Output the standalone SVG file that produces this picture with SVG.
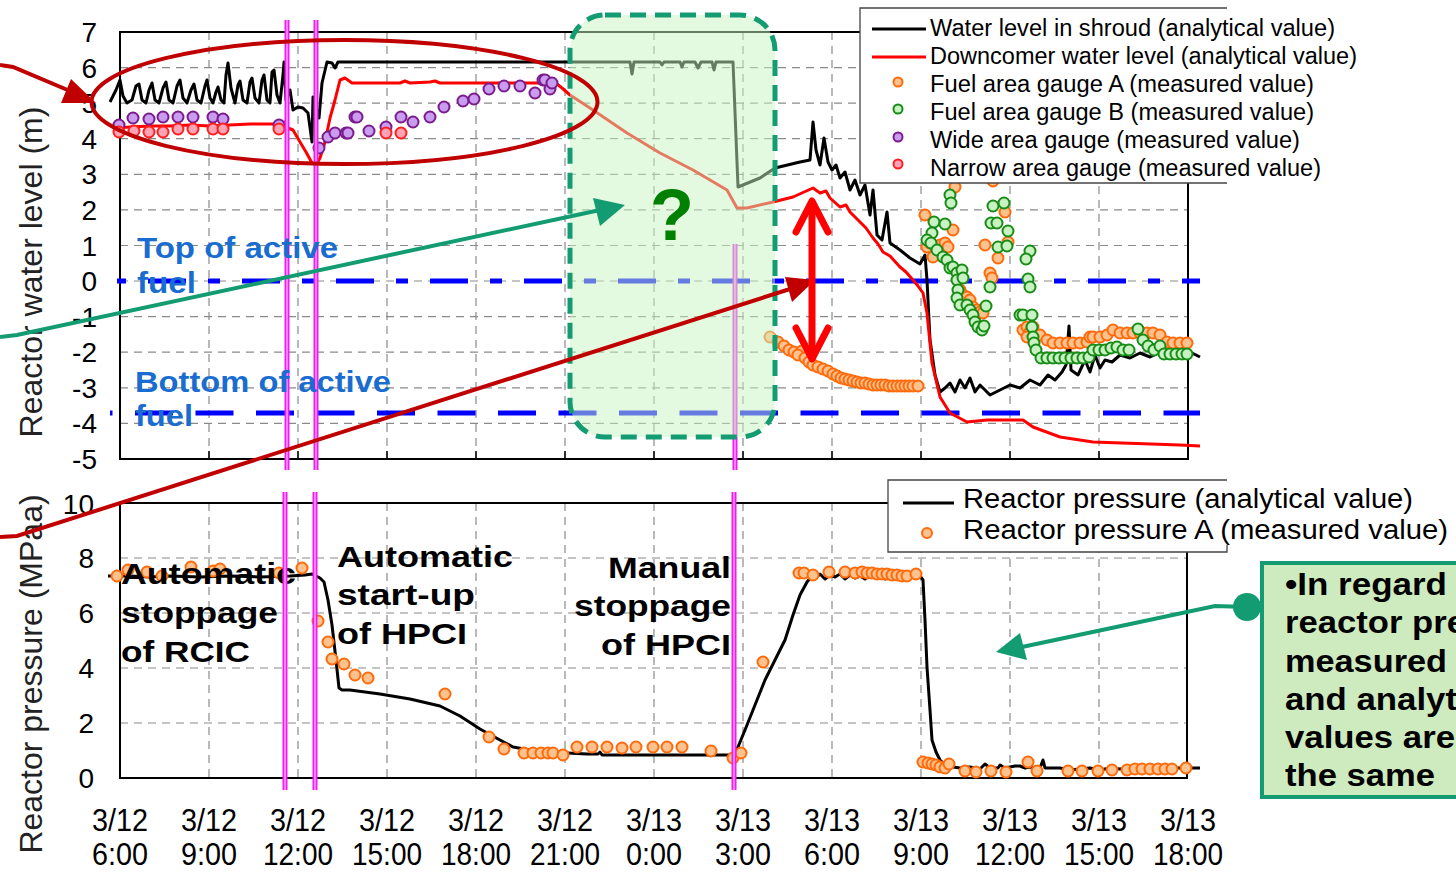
<svg xmlns="http://www.w3.org/2000/svg" width="1456" height="872" viewBox="0 0 1456 872">
<style>
text{font-family:"Liberation Sans",Arial,sans-serif}
.grid{stroke:#8a8a8a;stroke-width:1.2;stroke-dasharray:8 6;fill:none}
.frame{fill:none;stroke:#000;stroke-width:2}
.tick{font-size:28px;fill:#000;text-anchor:end}
.xl{font-size:32px;fill:#000;text-anchor:middle}
.ytitle{font-size:32px;fill:#222;text-anchor:middle}
.blk{fill:none;stroke:#000;stroke-width:3;stroke-linejoin:round}
.red{fill:none;stroke:#ff0000;stroke-width:3;stroke-linejoin:round}
.ga{fill:#fec28f;stroke:#ff6a0a;stroke-width:2}
.gb{fill:#c9f2c2;stroke:#178c17;stroke-width:2}
.wd{fill:#c99cf0;stroke:#7b1c8c;stroke-width:2}
.nr{fill:#ffa3b5;stroke:#ff1f1f;stroke-width:2}
.mg{stroke:#ee1eee;stroke-width:5}
.mg2{stroke:#ff9cff;stroke-width:1.5}
.fuel{font-size:29px;font-weight:bold;fill:#1a6dd0}
.note{font-size:30px;font-weight:bold;fill:#000}
.leg{font-size:23px;fill:#000}
.leg2{font-size:27px;fill:#000}
.call{font-size:31px;font-weight:bold;fill:#000}
.lbox{fill:#fff;stroke:none}
.lborder{fill:none;stroke:#444;stroke-width:1.3}
</style>

<!-- ===== Upper chart: reactor water level ===== -->
<g id="level-chart">
  <g id="level-grid">
    <path class="grid" d="M120,67.6H1188M120,103.2H1188M120,138.7H1188M120,174.3H1188M120,209.9H1188M120,245.5H1188M120,281H1188M120,316.6H1188M120,352.2H1188M120,387.8H1188M120,423.4H1188"/>
    <path class="grid" d="M209,32V459M298,32V459M387,32V459M476,32V459M565,32V459M654,32V459M743,32V459M832,32V459M921,32V459M1010,32V459M1099,32V459"/>
    <path stroke="#000" stroke-width="1.5" d="M209,451V459M298,451V459M387,451V459M476,451V459M565,451V459M654,451V459M743,451V459M832,451V459M921,451V459M1010,451V459M1099,451V459"/>
    <rect class="frame" x="120" y="32" width="1068" height="427"/>
  </g>
  <g id="level-ticks">
    <text class="tick" x="97" y="42">7</text>
    <text class="tick" x="97" y="77.6">6</text>
    <text class="tick" x="97" y="113.2">5</text>
    <text class="tick" x="97" y="148.7">4</text>
    <text class="tick" x="97" y="184.3">3</text>
    <text class="tick" x="97" y="219.9">2</text>
    <text class="tick" x="97" y="255.5">1</text>
    <text class="tick" x="97" y="291">0</text>
    <text class="tick" x="97" y="326.6">-1</text>
    <text class="tick" x="97" y="362.2">-2</text>
    <text class="tick" x="97" y="397.8">-3</text>
    <text class="tick" x="97" y="433.4">-4</text>
    <text class="tick" x="97" y="469">-5</text>
  </g>
  <text class="ytitle" transform="translate(42,272) rotate(-90)">Reactor water level (m)</text>

  <!-- fuel reference levels -->
  <g id="fuel-levels" fill="none" stroke="#0000ff" stroke-width="5">
    <line x1="117" y1="281" x2="1200" y2="281" stroke-dasharray="38 22 12 22" stroke-dashoffset="63"/>
    <line x1="110" y1="413" x2="1200" y2="413" stroke-dasharray="38 22.5" stroke-dashoffset="35.5"/>
  </g>

  <!-- analytical curves -->
  <path id="shroud-level" class="blk" d="M110,102 L116,90 L120,80 L123,96 L127,103 L132,100 L136,86 L139,84 L142,100 L146,103 L149,90 L152,83 L155,100 L159,103 L163,88 L166,82 L169,100 L173,103 L177,86 L180,80 L183,98 L187,103 L191,90 L194,84 L197,100 L201,103 L205,86 L207,80 L210,98 L213,103 L216,92 L218,87 L221,100 L224,103 L226,75 L228,63 L231,88 L235,103 L238,85 L240,81 L243,100 L247,103 L250,82 L252,78 L255,98 L259,103 L262,80 L264,75 L267,100 L270,103 L272,72 L274,70 L277,95 L280,103 L283,75 L284,62 L286,100 L290,90 L293,110 L298,107 L303,108 L308,113 L312,142 L313,97 L319,118 L322,83 L327,62 L332,63 L335,68 L338,62 L630,62 L632,74 L634,62 L660,62 L662,65 L664,62 L680,62 L682,67 L684,62 L695,62 L698,68 L701,62 L712,62 L714,70 L716,62 L733,62 L738,187 L760,178 L775,168 L800,162 L810,160 L813,122 L816,150 L820,165 L824,138 L828,162 L832,170 L836,165 L840,178 L845,172 L850,190 L855,180 L860,195 L865,185 L870,215 L873,190 L877,235 L882,240 L887,212 L890,243 L900,250 L910,258 L920,264 L925,255 L927,280 L930,340 L935,375 L940,392 L945,388 L950,383 L955,392 L960,380 L965,388 L970,378 L975,392 L980,385 L990,395 L1000,390 L1010,385 L1020,388 L1030,380 L1040,385 L1048,375 L1055,380 L1062,372 L1066,365 L1069,326 L1071,370 L1078,375 L1085,360 L1090,372 L1095,355 L1100,368 L1105,360 L1112,362 L1120,355 L1130,358 L1140,353 L1150,357 L1160,352 L1170,355 L1180,355 L1190,352 L1200,357"/>
  <path id="downcomer-level" class="red" d="M115,128 L130,127 L150,126 L170,126 L190,125 L210,126 L230,125 L250,124 L270,124 L280,124 L284,122 L288,128 L293,130 L300,142 L306,152 L312,163 L316,165 L320,158 L325,142 L330,118 L335,100 L340,80 L345,78 L352,83 L400,83 L405,81 L410,83 L430,82 L435,81 L440,83 L500,83 L550,83 L557,84 L562,88 L570,95 L593,110 L627,133 L660,153 L693,170 L727,190 L737,208 L747,208 L773,202 L793,197 L813,188 L820,193 L826,191 L830,198 L840,207 L846,205 L850,212 L860,222 L866,228 L873,238 L878,244 L883,252 L890,256 L900,267 L906,272 L913,280 L918,286 L923,293 L927,313 L932,363 L940,397 L950,413 L967,422 L987,420 L1023,420 L1033,427 L1060,437 L1093,442 L1180,445 L1200,446"/>

  <!-- wide area gauge -->
  <g id="wide-gauge">
    <circle class="wd" cx="119" cy="125" r="5.5"/><circle class="wd" cx="133" cy="118" r="5.5"/><circle class="wd" cx="149" cy="119" r="5.5"/><circle class="wd" cx="163" cy="117" r="5.5"/><circle class="wd" cx="178" cy="117" r="5.5"/><circle class="wd" cx="193" cy="117" r="5.5"/><circle class="wd" cx="213" cy="117" r="5.5"/><circle class="wd" cx="223" cy="119" r="5.5"/><circle class="wd" cx="279" cy="125" r="5.5"/>
    <circle class="wd" cx="319" cy="148" r="5.5"/><circle class="wd" cx="328" cy="137" r="5.5"/><circle class="wd" cx="335" cy="133" r="5.5"/><circle class="wd" cx="346" cy="133" r="5.5"/><circle class="wd" cx="348" cy="133" r="5.5"/><circle class="wd" cx="355" cy="117" r="5.5"/><circle class="wd" cx="357" cy="117" r="5.5"/><circle class="wd" cx="369" cy="131" r="5.5"/><circle class="wd" cx="386" cy="127" r="5.5"/><circle class="wd" cx="401" cy="117" r="5.5"/><circle class="wd" cx="413" cy="122" r="5.5"/><circle class="wd" cx="430" cy="117" r="5.5"/><circle class="wd" cx="444" cy="107" r="5.5"/><circle class="wd" cx="463" cy="101" r="5.5"/><circle class="wd" cx="474" cy="99" r="5.5"/><circle class="wd" cx="489" cy="89" r="5.5"/><circle class="wd" cx="504" cy="86" r="5.5"/><circle class="wd" cx="520" cy="86" r="5.5"/><circle class="wd" cx="535" cy="93" r="5.5"/><circle class="wd" cx="543" cy="80" r="5.5"/><circle class="wd" cx="545" cy="80" r="5.5"/><circle class="wd" cx="550" cy="89" r="5.5"/><circle class="wd" cx="552" cy="83" r="5.5"/>
  </g>
  <!-- narrow area gauge -->
  <g id="narrow-gauge">
    <circle class="nr" cx="119" cy="132" r="5.5"/><circle class="nr" cx="134" cy="131" r="5.5"/><circle class="nr" cx="149" cy="132" r="5.5"/><circle class="nr" cx="163" cy="132" r="5.5"/><circle class="nr" cx="178" cy="129" r="5.5"/><circle class="nr" cx="193" cy="129" r="5.5"/><circle class="nr" cx="213" cy="129" r="5.5"/><circle class="nr" cx="223" cy="129" r="5.5"/><circle class="nr" cx="279" cy="129" r="5.5"/><circle class="nr" cx="386" cy="133" r="5.5"/><circle class="nr" cx="401" cy="133" r="5.5"/>
  </g>
  <!-- fuel area gauge A -->
  <g id="fuel-gauge-a">
    <circle class="ga" cx="770" cy="337" r="5.5"/><circle class="ga" cx="778" cy="342" r="5.5"/><circle class="ga" cx="784" cy="346" r="5.5"/><circle class="ga" cx="789" cy="350" r="5.5"/><circle class="ga" cx="794" cy="352" r="5.5"/><circle class="ga" cx="802" cy="351" r="5.5"/><circle class="ga" cx="798" cy="355" r="5.5"/><circle class="ga" cx="805" cy="358" r="5.5"/><circle class="ga" cx="809" cy="362" r="5.5"/><circle class="ga" cx="813" cy="365" r="5.5"/><circle class="ga" cx="818" cy="367" r="5.5"/><circle class="ga" cx="823" cy="369" r="5.5"/><circle class="ga" cx="828" cy="371" r="5.5"/><circle class="ga" cx="833" cy="374" r="5.5"/><circle class="ga" cx="837" cy="376" r="5.5"/><circle class="ga" cx="841" cy="378" r="5.5"/><circle class="ga" cx="845" cy="379" r="5.5"/><circle class="ga" cx="849" cy="380" r="5.5"/><circle class="ga" cx="853" cy="381" r="5.5"/><circle class="ga" cx="857" cy="382" r="5.5"/><circle class="ga" cx="861" cy="383" r="5.5"/><circle class="ga" cx="865" cy="383" r="5.5"/><circle class="ga" cx="869" cy="384" r="5.5"/><circle class="ga" cx="873" cy="385" r="5.5"/><circle class="ga" cx="877" cy="385" r="5.5"/><circle class="ga" cx="881" cy="385" r="5.5"/><circle class="ga" cx="885" cy="385" r="5.5"/><circle class="ga" cx="889" cy="386" r="5.5"/><circle class="ga" cx="893" cy="386" r="5.5"/><circle class="ga" cx="897" cy="386" r="5.5"/><circle class="ga" cx="901" cy="386" r="5.5"/><circle class="ga" cx="905" cy="386" r="5.5"/><circle class="ga" cx="909" cy="386" r="5.5"/><circle class="ga" cx="913" cy="386" r="5.5"/><circle class="ga" cx="918" cy="386" r="5.5"/>
    <circle class="ga" cx="955" cy="187" r="5.5"/><circle class="ga" cx="993" cy="181" r="5.5"/><circle class="ga" cx="925" cy="215" r="5.5"/><circle class="ga" cx="953" cy="230" r="5.5"/><circle class="ga" cx="927" cy="247" r="5.5"/><circle class="ga" cx="930" cy="243" r="5.5"/><circle class="ga" cx="937" cy="252" r="5.5"/><circle class="ga" cx="940" cy="245" r="5.5"/><circle class="ga" cx="945" cy="243" r="5.5"/><circle class="ga" cx="948" cy="247" r="5.5"/><circle class="ga" cx="933" cy="257" r="5.5"/><circle class="ga" cx="985" cy="245" r="5.5"/><circle class="ga" cx="998" cy="258" r="5.5"/><circle class="ga" cx="1005" cy="212" r="5.5"/><circle class="ga" cx="1008" cy="242" r="5.5"/><circle class="ga" cx="990" cy="273" r="5.5"/><circle class="ga" cx="992" cy="278" r="5.5"/><circle class="ga" cx="960" cy="290" r="5.5"/><circle class="ga" cx="963" cy="295" r="5.5"/><circle class="ga" cx="967" cy="297" r="5.5"/><circle class="ga" cx="970" cy="300" r="5.5"/><circle class="ga" cx="973" cy="307" r="5.5"/><circle class="ga" cx="977" cy="310" r="5.5"/><circle class="ga" cx="980" cy="312" r="5.5"/><circle class="ga" cx="983" cy="313" r="5.5"/><circle class="ga" cx="1023" cy="330" r="5.5"/><circle class="ga" cx="1027" cy="327" r="5.5"/><circle class="ga" cx="1030" cy="332" r="5.5"/><circle class="ga" cx="1033" cy="327" r="5.5"/><circle class="ga" cx="1027" cy="337" r="5.5"/>
    <circle class="ga" cx="1040" cy="335" r="5.5"/><circle class="ga" cx="1047" cy="340" r="5.5"/><circle class="ga" cx="1053" cy="343" r="5.5"/><circle class="ga" cx="1060" cy="343" r="5.5"/><circle class="ga" cx="1067" cy="343" r="5.5"/><circle class="ga" cx="1073" cy="343" r="5.5"/><circle class="ga" cx="1080" cy="343" r="5.5"/><circle class="ga" cx="1087" cy="342" r="5.5"/><circle class="ga" cx="1090" cy="337" r="5.5"/><circle class="ga" cx="1093" cy="337" r="5.5"/><circle class="ga" cx="1100" cy="337" r="5.5"/><circle class="ga" cx="1107" cy="335" r="5.5"/><circle class="ga" cx="1113" cy="330" r="5.5"/><circle class="ga" cx="1120" cy="333" r="5.5"/><circle class="ga" cx="1127" cy="333" r="5.5"/><circle class="ga" cx="1133" cy="333" r="5.5"/><circle class="ga" cx="1140" cy="333" r="5.5"/><circle class="ga" cx="1147" cy="333" r="5.5"/><circle class="ga" cx="1153" cy="333" r="5.5"/><circle class="ga" cx="1160" cy="335" r="5.5"/><circle class="ga" cx="1167" cy="342" r="5.5"/><circle class="ga" cx="1173" cy="343" r="5.5"/><circle class="ga" cx="1180" cy="343" r="5.5"/><circle class="ga" cx="1187" cy="343" r="5.5"/>
  </g>
  <!-- fuel area gauge B -->
  <g id="fuel-gauge-b">
    <circle class="gb" cx="950" cy="195" r="5.5"/><circle class="gb" cx="951" cy="203" r="5.5"/><circle class="gb" cx="934" cy="222" r="5.5"/><circle class="gb" cx="945" cy="224" r="5.5"/><circle class="gb" cx="932" cy="233" r="5.5"/><circle class="gb" cx="927" cy="240" r="5.5"/><circle class="gb" cx="931" cy="243" r="5.5"/><circle class="gb" cx="937" cy="250" r="5.5"/><circle class="gb" cx="943" cy="257" r="5.5"/><circle class="gb" cx="947" cy="260" r="5.5"/><circle class="gb" cx="950" cy="268" r="5.5"/><circle class="gb" cx="953" cy="267" r="5.5"/><circle class="gb" cx="957" cy="273" r="5.5"/><circle class="gb" cx="962" cy="270" r="5.5"/><circle class="gb" cx="957" cy="280" r="5.5"/><circle class="gb" cx="963" cy="278" r="5.5"/><circle class="gb" cx="958" cy="290" r="5.5"/><circle class="gb" cx="957" cy="298" r="5.5"/><circle class="gb" cx="960" cy="305" r="5.5"/><circle class="gb" cx="967" cy="305" r="5.5"/><circle class="gb" cx="970" cy="310" r="5.5"/><circle class="gb" cx="973" cy="315" r="5.5"/><circle class="gb" cx="975" cy="322" r="5.5"/><circle class="gb" cx="978" cy="327" r="5.5"/><circle class="gb" cx="982" cy="330" r="5.5"/><circle class="gb" cx="984" cy="326" r="5.5"/><circle class="gb" cx="986" cy="306" r="5.5"/><circle class="gb" cx="990" cy="287" r="5.5"/><circle class="gb" cx="993" cy="206" r="5.5"/><circle class="gb" cx="1004" cy="203" r="5.5"/><circle class="gb" cx="991" cy="223" r="5.5"/><circle class="gb" cx="997" cy="223" r="5.5"/><circle class="gb" cx="1008" cy="231" r="5.5"/><circle class="gb" cx="998" cy="247" r="5.5"/><circle class="gb" cx="1007" cy="246" r="5.5"/><circle class="gb" cx="1030" cy="251" r="5.5"/><circle class="gb" cx="1026" cy="259" r="5.5"/><circle class="gb" cx="1028" cy="279" r="5.5"/><circle class="gb" cx="1030" cy="287" r="5.5"/><circle class="gb" cx="1020" cy="315" r="5.5"/><circle class="gb" cx="1023" cy="315" r="5.5"/><circle class="gb" cx="1032" cy="315" r="5.5"/><circle class="gb" cx="1032" cy="327" r="5.5"/><circle class="gb" cx="1033" cy="337" r="5.5"/><circle class="gb" cx="1034" cy="343" r="5.5"/><circle class="gb" cx="1036" cy="350" r="5.5"/>
    <circle class="gb" cx="1041" cy="358" r="5.5"/><circle class="gb" cx="1047" cy="358" r="5.5"/><circle class="gb" cx="1053" cy="358" r="5.5"/><circle class="gb" cx="1059" cy="358" r="5.5"/><circle class="gb" cx="1065" cy="358" r="5.5"/><circle class="gb" cx="1071" cy="358" r="5.5"/><circle class="gb" cx="1077" cy="358" r="5.5"/><circle class="gb" cx="1083" cy="358" r="5.5"/><circle class="gb" cx="1089" cy="357" r="5.5"/><circle class="gb" cx="1093" cy="350" r="5.5"/><circle class="gb" cx="1099" cy="350" r="5.5"/><circle class="gb" cx="1105" cy="350" r="5.5"/><circle class="gb" cx="1111" cy="348" r="5.5"/><circle class="gb" cx="1117" cy="347" r="5.5"/><circle class="gb" cx="1123" cy="350" r="5.5"/><circle class="gb" cx="1129" cy="350" r="5.5"/><circle class="gb" cx="1138" cy="329" r="5.5"/><circle class="gb" cx="1143" cy="340" r="5.5"/><circle class="gb" cx="1148" cy="346" r="5.5"/><circle class="gb" cx="1154" cy="350" r="5.5"/><circle class="gb" cx="1160" cy="346" r="5.5"/><circle class="gb" cx="1164" cy="354" r="5.5"/><circle class="gb" cx="1170" cy="354" r="5.5"/><circle class="gb" cx="1176" cy="354" r="5.5"/><circle class="gb" cx="1182" cy="354" r="5.5"/><circle class="gb" cx="1187" cy="354" r="5.5"/>
  </g>
</g>

<!-- ===== Lower chart: reactor pressure ===== -->
<g id="pressure-chart">
  <g id="pressure-grid">
    <path class="grid" d="M120,558H1187M120,613H1187M120,668H1187M120,723H1187"/>
    <path class="grid" d="M209,503V778M298,503V778M387,503V778M476,503V778M565,503V778M654,503V778M743,503V778M832,503V778M921,503V778M1010,503V778M1099,503V778"/>
    <rect class="frame" x="120" y="503" width="1067" height="275"/>
  </g>
  <g id="pressure-ticks">
    <text class="tick" x="94" y="514">10</text>
    <text class="tick" x="94" y="568">8</text>
    <text class="tick" x="94" y="623">6</text>
    <text class="tick" x="94" y="678">4</text>
    <text class="tick" x="94" y="733">2</text>
    <text class="tick" x="94" y="788">0</text>
  </g>
  <text class="ytitle" transform="translate(42,674) rotate(-90)">Reactor pressure (MPaa)</text>

  <path id="pressure-analytical" class="blk" d="M108,576 L130,576 L150,577 L170,576 L200,577 L230,576 L260,577 L290,576 L305,575 L312,574 L316,576 L320,578 L324,582 L328,600 L332,625 L336,660 L339,688 L342,690 L350,690 L380,694 L410,699 L440,706 L460,716 L480,729 L500,740 L513,747 L530,750 L547,752 L587,754 L598,754 L600,752 L602,755 L733,755 L738,747 L745,730 L755,705 L765,680 L775,660 L785,640 L793,615 L800,595 L807,582 L812,576 L816,578 L820,574 L825,579 L830,575 L835,577 L840,574 L845,579 L850,575 L855,578 L860,576 L865,579 L870,575 L875,577 L880,574 L885,579 L890,577 L900,577 L910,577 L920,576 L923,580 L925,620 L927,667 L930,710 L932,740 L936,752 L940,760 L945,765 L953,767 L960,768 L970,767 L980,769 L985,764 L990,768 L998,768 L1000,765 L1005,768 L1010,767 L1015,766 L1020,766 L1025,768 L1030,767 L1040,768 L1043,760 L1045,768 L1050,768 L1060,768 L1070,770 L1080,769 L1090,768 L1100,770 L1110,768 L1120,769 L1130,768 L1150,768 L1170,768 L1185,768 L1200,768"/>

  <g id="pressure-measured">
    <circle class="ga" cx="117" cy="576" r="5.5"/><circle class="ga" cx="128" cy="570" r="5.5"/><circle class="ga" cx="147" cy="572" r="5.5"/><circle class="ga" cx="162" cy="576" r="5.5"/><circle class="ga" cx="191" cy="567" r="5.5"/><circle class="ga" cx="213" cy="571" r="5.5"/><circle class="ga" cx="220" cy="569" r="5.5"/><circle class="ga" cx="279" cy="573" r="5.5"/><circle class="ga" cx="302" cy="568" r="5.5"/><circle class="ga" cx="318" cy="621" r="5.5"/><circle class="ga" cx="328" cy="642" r="5.5"/><circle class="ga" cx="332" cy="659" r="5.5"/><circle class="ga" cx="344" cy="664" r="5.5"/><circle class="ga" cx="355" cy="675" r="5.5"/><circle class="ga" cx="368" cy="678" r="5.5"/>
    <circle class="ga" cx="445" cy="694" r="5.5"/><circle class="ga" cx="489" cy="737" r="5.5"/><circle class="ga" cx="504" cy="749" r="5.5"/><circle class="ga" cx="524" cy="753" r="5.5"/><circle class="ga" cx="533" cy="753" r="5.5"/><circle class="ga" cx="541" cy="753" r="5.5"/><circle class="ga" cx="548" cy="753" r="5.5"/><circle class="ga" cx="553" cy="753" r="5.5"/><circle class="ga" cx="563" cy="755" r="5.5"/><circle class="ga" cx="577" cy="747" r="5.5"/><circle class="ga" cx="592" cy="747" r="5.5"/><circle class="ga" cx="607" cy="747" r="5.5"/><circle class="ga" cx="622" cy="748" r="5.5"/><circle class="ga" cx="636" cy="747" r="5.5"/><circle class="ga" cx="653" cy="747" r="5.5"/><circle class="ga" cx="667" cy="747" r="5.5"/><circle class="ga" cx="682" cy="747" r="5.5"/><circle class="ga" cx="711" cy="751" r="5.5"/><circle class="ga" cx="733" cy="758" r="5.5"/><circle class="ga" cx="741" cy="753" r="5.5"/><circle class="ga" cx="763" cy="662" r="5.5"/><circle class="ga" cx="799" cy="573" r="5.5"/>
    <circle class="ga" cx="804" cy="573" r="5.5"/><circle class="ga" cx="813" cy="575" r="5.5"/><circle class="ga" cx="829" cy="572" r="5.5"/><circle class="ga" cx="845" cy="572" r="5.5"/><circle class="ga" cx="855" cy="573" r="5.5"/><circle class="ga" cx="862" cy="572" r="5.5"/><circle class="ga" cx="867" cy="573" r="5.5"/><circle class="ga" cx="872" cy="573" r="5.5"/><circle class="ga" cx="877" cy="574" r="5.5"/><circle class="ga" cx="882" cy="574" r="5.5"/><circle class="ga" cx="887" cy="574" r="5.5"/><circle class="ga" cx="892" cy="575" r="5.5"/><circle class="ga" cx="897" cy="575" r="5.5"/><circle class="ga" cx="902" cy="576" r="5.5"/><circle class="ga" cx="907" cy="576" r="5.5"/><circle class="ga" cx="916" cy="574" r="5.5"/>
    <circle class="ga" cx="923" cy="762" r="5.5"/><circle class="ga" cx="928" cy="763" r="5.5"/><circle class="ga" cx="932" cy="764" r="5.5"/><circle class="ga" cx="936" cy="765" r="5.5"/><circle class="ga" cx="940" cy="767" r="5.5"/><circle class="ga" cx="945" cy="768" r="5.5"/><circle class="ga" cx="949" cy="764" r="5.5"/><circle class="ga" cx="965" cy="771" r="5.5"/><circle class="ga" cx="976" cy="772" r="5.5"/><circle class="ga" cx="991" cy="771" r="5.5"/><circle class="ga" cx="1006" cy="772" r="5.5"/><circle class="ga" cx="1028" cy="762" r="5.5"/><circle class="ga" cx="1037" cy="771" r="5.5"/><circle class="ga" cx="1068" cy="771" r="5.5"/><circle class="ga" cx="1082" cy="771" r="5.5"/><circle class="ga" cx="1098" cy="771" r="5.5"/><circle class="ga" cx="1112" cy="770" r="5.5"/><circle class="ga" cx="1127" cy="770" r="5.5"/><circle class="ga" cx="1135" cy="769" r="5.5"/><circle class="ga" cx="1142" cy="769" r="5.5"/><circle class="ga" cx="1150" cy="769" r="5.5"/><circle class="ga" cx="1158" cy="769" r="5.5"/><circle class="ga" cx="1165" cy="769" r="5.5"/><circle class="ga" cx="1172" cy="769" r="5.5"/><circle class="ga" cx="1186" cy="768" r="5.5"/>
  </g>

  <!-- event labels -->
  <g id="event-labels">
    <text class="note" x="121" y="584" textLength="175" lengthAdjust="spacingAndGlyphs">Automatic</text>
    <text class="note" x="121" y="623" textLength="157" lengthAdjust="spacingAndGlyphs">stoppage</text>
    <text class="note" x="121" y="662" textLength="129" lengthAdjust="spacingAndGlyphs">of RCIC</text>
    <text class="note" x="337" y="567" textLength="176" lengthAdjust="spacingAndGlyphs">Automatic</text>
    <text class="note" x="337" y="605" textLength="138" lengthAdjust="spacingAndGlyphs">start-up</text>
    <text class="note" x="337" y="644" textLength="130" lengthAdjust="spacingAndGlyphs">of HPCI</text>
    <text class="note" x="608" y="578" textLength="123" lengthAdjust="spacingAndGlyphs">Manual</text>
    <text class="note" x="574" y="616" textLength="157" lengthAdjust="spacingAndGlyphs">stoppage</text>
    <text class="note" x="601" y="655" textLength="130" lengthAdjust="spacingAndGlyphs">of HPCI</text>
  </g>
</g>

<!-- time axis -->
<g id="time-axis">
  <text class="xl" x="120" y="831" textLength="56" lengthAdjust="spacingAndGlyphs">3/12</text>
  <text class="xl" x="209" y="831" textLength="56" lengthAdjust="spacingAndGlyphs">3/12</text>
  <text class="xl" x="298" y="831" textLength="56" lengthAdjust="spacingAndGlyphs">3/12</text>
  <text class="xl" x="387" y="831" textLength="56" lengthAdjust="spacingAndGlyphs">3/12</text>
  <text class="xl" x="476" y="831" textLength="56" lengthAdjust="spacingAndGlyphs">3/12</text>
  <text class="xl" x="565" y="831" textLength="56" lengthAdjust="spacingAndGlyphs">3/12</text>
  <text class="xl" x="654" y="831" textLength="56" lengthAdjust="spacingAndGlyphs">3/13</text>
  <text class="xl" x="743" y="831" textLength="56" lengthAdjust="spacingAndGlyphs">3/13</text>
  <text class="xl" x="832" y="831" textLength="56" lengthAdjust="spacingAndGlyphs">3/13</text>
  <text class="xl" x="921" y="831" textLength="56" lengthAdjust="spacingAndGlyphs">3/13</text>
  <text class="xl" x="1010" y="831" textLength="56" lengthAdjust="spacingAndGlyphs">3/13</text>
  <text class="xl" x="1099" y="831" textLength="56" lengthAdjust="spacingAndGlyphs">3/13</text>
  <text class="xl" x="1188" y="831" textLength="56" lengthAdjust="spacingAndGlyphs">3/13</text>
  <text class="xl" x="120" y="865" textLength="56" lengthAdjust="spacingAndGlyphs">6:00</text>
  <text class="xl" x="209" y="865" textLength="56" lengthAdjust="spacingAndGlyphs">9:00</text>
  <text class="xl" x="298" y="865" textLength="70" lengthAdjust="spacingAndGlyphs">12:00</text>
  <text class="xl" x="387" y="865" textLength="70" lengthAdjust="spacingAndGlyphs">15:00</text>
  <text class="xl" x="476" y="865" textLength="70" lengthAdjust="spacingAndGlyphs">18:00</text>
  <text class="xl" x="565" y="865" textLength="70" lengthAdjust="spacingAndGlyphs">21:00</text>
  <text class="xl" x="654" y="865" textLength="56" lengthAdjust="spacingAndGlyphs">0:00</text>
  <text class="xl" x="743" y="865" textLength="56" lengthAdjust="spacingAndGlyphs">3:00</text>
  <text class="xl" x="832" y="865" textLength="56" lengthAdjust="spacingAndGlyphs">6:00</text>
  <text class="xl" x="921" y="865" textLength="56" lengthAdjust="spacingAndGlyphs">9:00</text>
  <text class="xl" x="1010" y="865" textLength="70" lengthAdjust="spacingAndGlyphs">12:00</text>
  <text class="xl" x="1099" y="865" textLength="70" lengthAdjust="spacingAndGlyphs">15:00</text>
  <text class="xl" x="1188" y="865" textLength="70" lengthAdjust="spacingAndGlyphs">18:00</text>
</g>

<!-- system event markers -->
<g id="event-markers">
  <line class="mg" x1="287" y1="20" x2="287" y2="470"/><line class="mg2" x1="287" y1="20" x2="287" y2="470"/>
  <line class="mg" x1="316" y1="20" x2="316" y2="470"/><line class="mg2" x1="316" y1="20" x2="316" y2="470"/>
  <line class="mg" x1="735" y1="244" x2="735" y2="470"/><line class="mg2" x1="735" y1="244" x2="735" y2="470"/>
  <line class="mg" x1="285" y1="492" x2="285" y2="790"/><line class="mg2" x1="285" y1="492" x2="285" y2="790"/>
  <line class="mg" x1="315" y1="492" x2="315" y2="790"/><line class="mg2" x1="315" y1="492" x2="315" y2="790"/>
  <line class="mg" x1="734" y1="492" x2="734" y2="790"/><line class="mg2" x1="734" y1="492" x2="734" y2="790"/>
</g>

<!-- uncertain period -->
<g id="unknown-period">
  <rect x="570" y="15" width="205" height="422" rx="35" fill="#c9f5c1" fill-opacity="0.5"/>
  <rect x="570" y="15" width="205" height="422" rx="35" fill="none" stroke="#139b72" stroke-width="5" stroke-dasharray="16 9"/>
  <text x="672" y="240" font-size="72" font-weight="bold" fill="#008000" text-anchor="middle">?</text>
</g>

<!-- fuel level labels -->
<g id="fuel-labels">
  <text class="fuel" x="137" y="258" textLength="201" lengthAdjust="spacingAndGlyphs">Top of active</text>
  <text class="fuel" x="137" y="293" textLength="59" lengthAdjust="spacingAndGlyphs">fuel</text>
  <text class="fuel" x="135" y="392" textLength="256" lengthAdjust="spacingAndGlyphs">Bottom of active</text>
  <text class="fuel" x="135" y="426" textLength="58" lengthAdjust="spacingAndGlyphs">fuel</text>
</g>

<!-- legends (text runs past the right edge of each box) -->
<g id="level-legend">
  <rect class="lbox" x="860" y="8" width="367" height="175"/>
  <path class="lborder" d="M1227,8H860V183H1227"/>
  <line x1="872" y1="29" x2="926" y2="29" stroke="#000" stroke-width="3"/>
  <line x1="872" y1="57" x2="926" y2="57" stroke="#ff0000" stroke-width="3"/>
  <circle class="ga" cx="898" cy="82" r="4.5"/>
  <circle class="gb" cx="898" cy="109" r="4.5"/>
  <circle class="wd" cx="898" cy="137" r="4.5"/>
  <circle class="nr" cx="898" cy="164" r="4.5"/>
  <text class="leg" x="930" y="36" textLength="405" lengthAdjust="spacingAndGlyphs">Water level in shroud (analytical value)</text>
  <text class="leg" x="930" y="64" textLength="427" lengthAdjust="spacingAndGlyphs">Downcomer water level (analytical value)</text>
  <text class="leg" x="930" y="92" textLength="384" lengthAdjust="spacingAndGlyphs">Fuel area gauge A (measured value)</text>
  <text class="leg" x="930" y="120" textLength="384" lengthAdjust="spacingAndGlyphs">Fuel area gauge B (measured value)</text>
  <text class="leg" x="930" y="148" textLength="370" lengthAdjust="spacingAndGlyphs">Wide area gauge (measured value)</text>
  <text class="leg" x="930" y="176" textLength="391" lengthAdjust="spacingAndGlyphs">Narrow area gauge (measured value)</text>
</g>
<g id="pressure-legend">
  <rect class="lbox" x="888" y="480" width="339" height="72"/>
  <path class="lborder" d="M1227,480H888V552H1227V545"/>
  <line x1="903" y1="503" x2="954" y2="503" stroke="#000" stroke-width="3"/>
  <circle class="ga" cx="927" cy="533" r="5"/>
  <text class="leg2" x="963" y="508" textLength="450" lengthAdjust="spacingAndGlyphs">Reactor pressure (analytical value)</text>
  <text class="leg2" x="963" y="539" textLength="485" lengthAdjust="spacingAndGlyphs">Reactor pressure A (measured value)</text>
</g>

<!-- highlighted region of early level data -->
<ellipse id="early-level-oval" cx="344.5" cy="102" rx="253" ry="62" fill="none" stroke="#c00000" stroke-width="4"/>

<!-- annotation arrows -->
<g id="connectors">
  <polyline points="0,65 13,67 70,91" fill="none" stroke="#c00000" stroke-width="4"/>
  <polygon points="96,103 61,103 71,79" fill="#c00000"/>
  <polyline points="0,337 17,335 600,210" fill="none" stroke="#139b72" stroke-width="4"/>
  <polygon points="625,205 593,198 600,226" fill="#139b72"/>
  <polyline points="0,537 17,536 790,289" fill="none" stroke="#c00000" stroke-width="4"/>
  <polygon points="815,280 785,277 792,302" fill="#c00000"/>
  <g stroke="#ff0000" stroke-width="7" fill="none" stroke-linecap="round" stroke-linejoin="round">
    <line x1="812" y1="203" x2="812" y2="357"/>
    <polyline points="796,232 812,201 828,232"/>
    <polyline points="796,328 812,359 828,328"/>
  </g>
  <polyline points="1247,607 1215,606 1022,647" fill="none" stroke="#139b72" stroke-width="4"/>
  <polygon points="996,652 1020,633 1027,660" fill="#139b72"/>
  <circle cx="1247" cy="607" r="14" fill="#139b72"/>
</g>

<!-- note box -->
<g id="pressure-note">
  <rect x="1262" y="563" width="200" height="234" fill="#cdebbf" stroke="#139b72" stroke-width="4"/>
  <text class="call" x="1285" y="595" textLength="162" lengthAdjust="spacingAndGlyphs">•In regard</text>
  <text class="call" x="1285" y="633" textLength="181" lengthAdjust="spacingAndGlyphs">reactor pre</text>
  <text class="call" x="1285" y="672" textLength="162" lengthAdjust="spacingAndGlyphs">measured</text>
  <text class="call" x="1285" y="710" textLength="172" lengthAdjust="spacingAndGlyphs">and analyt</text>
  <text class="call" x="1285" y="748" textLength="170" lengthAdjust="spacingAndGlyphs">values are</text>
  <text class="call" x="1285" y="786" textLength="150" lengthAdjust="spacingAndGlyphs">the same</text>
</g>
</svg>
